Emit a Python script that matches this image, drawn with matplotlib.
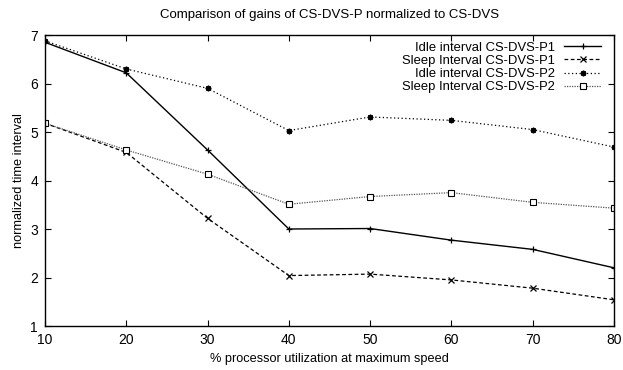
import numpy as np
import matplotlib
matplotlib.use("Agg")
import matplotlib.pyplot as plt

plt.rcParams['font.family'] = ['Liberation Sans', 'DejaVu Sans']

# processor utilization (%)
util = [10, 20, 30, 40, 50, 60, 70, 80]

# normalized time intervals
idle_p1 = [6.85, 6.22, 4.63, 3.00, 3.01, 2.77, 2.58, 2.20]
sleep_p1 = [5.18, 4.58, 3.22, 2.04, 2.07, 1.95, 1.78, 1.54]
idle_p2 = [6.88, 6.30, 5.90, 5.03, 5.31, 5.24, 5.05, 4.69]
sleep_p2 = [5.18, 4.63, 4.13, 3.51, 3.67, 3.75, 3.55, 3.43]

labels = ['Idle interval CS-DVS-P1', 'Sleep Interval CS-DVS-P1',
          'Idle interval CS-DVS-P2', 'Sleep Interval CS-DVS-P2']

fig = plt.figure(figsize=(6.23, 3.70), dpi=100)
ax = fig.add_axes([0.0722, 0.1189, 0.9133, 0.7865])

ax.plot(util, idle_p1, color='black', lw=1.0, linestyle='-',
        marker='+', ms=5, mew=0.9, label=labels[0])
ax.plot(util, sleep_p1, color='black', lw=0.9, linestyle=(0, (3, 2)),
        marker='x', ms=4, mew=0.9, label=labels[1])
ax.plot(util, idle_p2, color='black', lw=0.9, linestyle=(0, (1, 2)),
        marker=(8, 2, 0), ms=4, mew=1.1, label=labels[2])
ax.plot(util, sleep_p2, color='#555555', lw=0.9, linestyle=(0, (1, 1)),
        marker='s', ms=4, mfc='white', mec='black', mew=0.8, label=labels[3])

ax.set_xlim(10, 80)
ax.set_ylim(1, 7)
ax.set_xticks(util)
ax.set_yticks(range(1, 8))

ax.tick_params(direction='in', top=True, right=True, length=4, width=0.8,
               labelsize=10, pad=5)
for s in ax.spines.values():
    s.set_linewidth(1.0)

ax.set_xlabel('% processor utilization at maximum speed', fontsize=9.2)
ax.set_ylabel('normalized time interval', fontsize=9.2)
ax.set_title('Comparison of gains of CS-DVS-P normalized to CS-DVS', fontsize=9.5, pad=12)

leg = ax.legend(loc='upper right', bbox_to_anchor=(0.986, 0.995), frameon=False,
                markerfirst=False, fontsize=9.4, handlelength=2.8,
                labelspacing=0.08, borderaxespad=0, handletextpad=0.7)

fig.savefig('out.png', dpi=100)
